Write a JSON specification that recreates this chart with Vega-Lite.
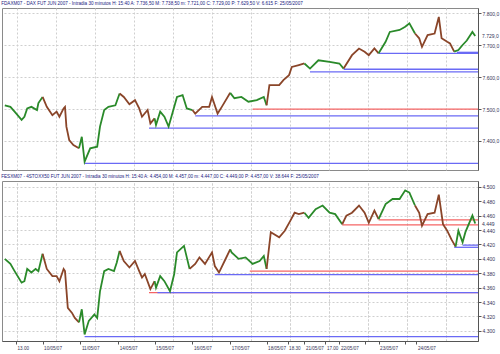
{
  "$schema": "https://vega.github.io/schema/vega-lite/v6.json",
  "padding": 0,
  "background": "white",
  "spacing": 2,
  "config": {
    "locale": {"number": {"decimal": ",", "thousands": ".", "grouping": [3], "currency": ["", ""]}},
    "font": "Liberation Sans",
    "view": {"stroke": "#8a8a8a"},
    "title": {"fontSize": 4.6, "fontWeight": "normal", "color": "#1a1a80", "anchor": "start", "offset": 2, "font": "Liberation Sans"},
    "axis": {"labelFontSize": 5, "labelColor": "#333355", "title": null}
  },
  "datasets": {
    "dax": [
      {"b":2,"v":7512,"d":1,"c":"g"},{"b":6,"v":7507,"d":1,"c":"g"},{"b":9,"v":7492,"d":1,"c":"g"},{"b":14,"v":7466,"d":1,"c":"g"},{"b":16,"v":7476,"d":1,"c":"g"},{"b":18,"v":7502,"d":1,"c":"g"},{"b":21,"v":7507,"d":1,"c":"g"},{"b":25,"v":7497,"d":1,"c":"g"},{"b":26,"v":7519,"d":1,"c":"g"},{"b":29,"v":7538,"d":1,"c":"g"},
      {"b":29,"v":7538,"d":2,"c":"r"},{"b":32,"v":7507,"d":2,"c":"r"},{"b":36,"v":7481,"d":2,"c":"r"},{"b":39,"v":7492,"d":2,"c":"r"},{"b":41,"v":7476,"d":2,"c":"r"},{"b":44,"v":7502,"d":2,"c":"r"},{"b":45,"v":7507,"d":2,"c":"r"},{"b":46,"v":7445,"d":2,"c":"r"},{"b":48,"v":7403,"d":2,"c":"r"},{"b":51,"v":7387,"d":2,"c":"r"},{"b":55,"v":7377,"d":2,"c":"r"},
      {"b":55,"v":7377,"d":3,"c":"g"},{"b":57,"v":7413,"d":3,"c":"g"},{"b":59,"v":7335,"d":3,"c":"g"},{"b":63,"v":7377,"d":3,"c":"g"},{"b":68,"v":7382,"d":3,"c":"g"},{"b":70,"v":7445,"d":3,"c":"g"},{"b":73,"v":7497,"d":3,"c":"g"},{"b":76,"v":7507,"d":3,"c":"g"},{"b":81,"v":7512,"d":3,"c":"g"},{"b":84,"v":7549,"d":3,"c":"g"},
      {"b":84,"v":7549,"d":4,"c":"r"},{"b":87,"v":7538,"d":4,"c":"r"},{"b":91,"v":7515,"d":4,"c":"r"},{"b":95,"v":7528,"d":4,"c":"r"},{"b":98,"v":7502,"d":4,"c":"r"},{"b":100,"v":7476,"d":4,"c":"r"},{"b":104,"v":7497,"d":4,"c":"r"},{"b":106,"v":7455,"d":4,"c":"r"},{"b":109,"v":7471,"d":4,"c":"r"},
      {"b":109,"v":7471,"d":5,"c":"g"},{"b":110,"v":7450,"d":5,"c":"g"},{"b":113,"v":7492,"d":5,"c":"g"},{"b":116,"v":7476,"d":5,"c":"g"},{"b":119,"v":7445,"d":5,"c":"g"},{"b":121,"v":7476,"d":5,"c":"g"},{"b":125,"v":7538,"d":5,"c":"g"},{"b":129,"v":7544,"d":5,"c":"g"},{"b":132,"v":7502,"d":5,"c":"g"},{"b":136,"v":7497,"d":5,"c":"g"},
      {"b":136,"v":7497,"d":6,"c":"r"},{"b":138,"v":7486,"d":6,"c":"r"},{"b":143,"v":7507,"d":6,"c":"r"},{"b":148,"v":7507,"d":6,"c":"r"},{"b":150,"v":7538,"d":6,"c":"r"},{"b":154,"v":7486,"d":6,"c":"r"},{"b":157,"v":7507,"d":6,"c":"r"},{"b":163,"v":7551,"d":6,"c":"r"},
      {"b":163,"v":7551,"d":7,"c":"g"},{"b":166,"v":7534,"d":7,"c":"g"},{"b":171,"v":7538,"d":7,"c":"g"},{"b":176,"v":7523,"d":7,"c":"g"},{"b":182,"v":7528,"d":7,"c":"g"},{"b":187,"v":7538,"d":7,"c":"g"},{"b":189,"v":7512,"d":7,"c":"g"},
      {"b":189,"v":7512,"d":8,"c":"r"},{"b":191,"v":7575,"d":8,"c":"r"},{"b":198,"v":7575,"d":8,"c":"r"},{"b":201,"v":7591,"d":8,"c":"r"},{"b":205,"v":7606,"d":8,"c":"r"},{"b":207,"v":7632,"d":8,"c":"r"},{"b":212,"v":7638,"d":8,"c":"r"},{"b":216,"v":7643,"d":8,"c":"r"},
      {"b":216,"v":7643,"d":9,"c":"g"},{"b":220,"v":7627,"d":9,"c":"g"},{"b":226,"v":7653,"d":9,"c":"g"},{"b":234,"v":7648,"d":9,"c":"g"},{"b":241,"v":7643,"d":9,"c":"g"},{"b":244,"v":7627,"d":9,"c":"g"},
      {"b":244,"v":7627,"d":10,"c":"r"},{"b":250,"v":7669,"d":10,"c":"r"},{"b":255,"v":7690,"d":10,"c":"r"},{"b":259,"v":7680,"d":10,"c":"r"},{"b":262,"v":7669,"d":10,"c":"r"},{"b":266,"v":7690,"d":10,"c":"r"},{"b":269,"v":7675,"d":10,"c":"r"},
      {"b":269,"v":7675,"d":11,"c":"g"},{"b":274,"v":7711,"d":11,"c":"g"},{"b":277,"v":7742,"d":11,"c":"g"},{"b":284,"v":7748,"d":11,"c":"g"},{"b":288,"v":7758,"d":11,"c":"g"},{"b":291,"v":7769,"d":11,"c":"g"},{"b":295,"v":7737,"d":11,"c":"g"},
      {"b":295,"v":7737,"d":12,"c":"r"},{"b":298,"v":7722,"d":12,"c":"r"},{"b":300,"v":7695,"d":12,"c":"r"},{"b":304,"v":7732,"d":12,"c":"r"},{"b":309,"v":7737,"d":12,"c":"r"},{"b":312,"v":7789,"d":12,"c":"r"},{"b":314,"v":7722,"d":12,"c":"r"},{"b":318,"v":7711,"d":12,"c":"r"},{"b":320,"v":7706,"d":12,"c":"r"},{"b":323,"v":7680,"d":12,"c":"r"},
      {"b":323,"v":7680,"d":13,"c":"g"},{"b":326,"v":7685,"d":13,"c":"g"},{"b":329,"v":7701,"d":13,"c":"g"},{"b":332,"v":7715,"d":13,"c":"g"},{"b":336,"v":7742,"d":13,"c":"g"},{"b":338,"v":7729,"d":13,"c":"g"}
    ],
    "stx": [
      {"b":2,"v":4400,"d":1,"c":"g"},{"b":6,"v":4393,"d":1,"c":"g"},{"b":9,"v":4383,"d":1,"c":"g"},{"b":14,"v":4367,"d":1,"c":"g"},{"b":16,"v":4369,"d":1,"c":"g"},{"b":18,"v":4386,"d":1,"c":"g"},{"b":21,"v":4381,"d":1,"c":"g"},{"b":24,"v":4386,"d":1,"c":"g"},{"b":26,"v":4383,"d":1,"c":"g"},{"b":29,"v":4407,"d":1,"c":"g"},
      {"b":29,"v":4407,"d":2,"c":"r"},{"b":32,"v":4386,"d":2,"c":"r"},{"b":36,"v":4376,"d":2,"c":"r"},{"b":39,"v":4376,"d":2,"c":"r"},{"b":41,"v":4369,"d":2,"c":"r"},{"b":44,"v":4386,"d":2,"c":"r"},{"b":45,"v":4383,"d":2,"c":"r"},{"b":47,"v":4332,"d":2,"c":"r"},{"b":50,"v":4325,"d":2,"c":"r"},{"b":52,"v":4318,"d":2,"c":"r"},{"b":55,"v":4312,"d":2,"c":"r"},
      {"b":55,"v":4312,"d":3,"c":"g"},{"b":57,"v":4330,"d":3,"c":"g"},{"b":59,"v":4295,"d":3,"c":"g"},{"b":62,"v":4314,"d":3,"c":"g"},{"b":66,"v":4323,"d":3,"c":"g"},{"b":68,"v":4318,"d":3,"c":"g"},{"b":70,"v":4355,"d":3,"c":"g"},{"b":73,"v":4383,"d":3,"c":"g"},{"b":76,"v":4386,"d":3,"c":"g"},{"b":80,"v":4383,"d":3,"c":"g"},{"b":82,"v":4395,"d":3,"c":"g"},{"b":84,"v":4411,"d":3,"c":"g"},
      {"b":84,"v":4411,"d":4,"c":"r"},{"b":87,"v":4397,"d":4,"c":"r"},{"b":91,"v":4388,"d":4,"c":"r"},{"b":95,"v":4397,"d":4,"c":"r"},{"b":98,"v":4383,"d":4,"c":"r"},{"b":100,"v":4374,"d":4,"c":"r"},{"b":102,"v":4379,"d":4,"c":"r"},{"b":106,"v":4358,"d":4,"c":"r"},{"b":109,"v":4369,"d":4,"c":"r"},
      {"b":109,"v":4369,"d":5,"c":"g"},{"b":110,"v":4360,"d":5,"c":"g"},{"b":113,"v":4376,"d":5,"c":"g"},{"b":116,"v":4369,"d":5,"c":"g"},{"b":120,"v":4355,"d":5,"c":"g"},{"b":123,"v":4379,"d":5,"c":"g"},{"b":125,"v":4409,"d":5,"c":"g"},{"b":130,"v":4418,"d":5,"c":"g"},{"b":132,"v":4402,"d":5,"c":"g"},{"b":134,"v":4386,"d":5,"c":"g"},
      {"b":134,"v":4386,"d":6,"c":"r"},{"b":138,"v":4393,"d":6,"c":"r"},{"b":141,"v":4402,"d":6,"c":"r"},{"b":145,"v":4393,"d":6,"c":"r"},{"b":150,"v":4409,"d":6,"c":"r"},{"b":152,"v":4390,"d":6,"c":"r"},{"b":155,"v":4381,"d":6,"c":"r"},{"b":159,"v":4397,"d":6,"c":"r"},{"b":163,"v":4413,"d":6,"c":"r"},
      {"b":163,"v":4413,"d":7,"c":"g"},{"b":164,"v":4409,"d":7,"c":"g"},{"b":169,"v":4400,"d":7,"c":"g"},{"b":174,"v":4402,"d":7,"c":"g"},{"b":179,"v":4393,"d":7,"c":"g"},{"b":184,"v":4397,"d":7,"c":"g"},{"b":187,"v":4404,"d":7,"c":"g"},{"b":189,"v":4386,"d":7,"c":"g"},
      {"b":189,"v":4386,"d":8,"c":"r"},{"b":192,"v":4437,"d":8,"c":"r"},{"b":198,"v":4430,"d":8,"c":"r"},{"b":202,"v":4439,"d":8,"c":"r"},{"b":206,"v":4453,"d":8,"c":"r"},{"b":209,"v":4464,"d":8,"c":"r"},{"b":212,"v":4462,"d":8,"c":"r"},{"b":216,"v":4464,"d":8,"c":"r"},
      {"b":216,"v":4464,"d":9,"c":"g"},{"b":219,"v":4457,"d":9,"c":"g"},{"b":224,"v":4469,"d":9,"c":"g"},{"b":229,"v":4474,"d":9,"c":"g"},{"b":234,"v":4464,"d":9,"c":"g"},{"b":238,"v":4462,"d":9,"c":"g"},{"b":243,"v":4448,"d":9,"c":"g"},
      {"b":243,"v":4448,"d":10,"c":"r"},{"b":246,"v":4460,"d":10,"c":"r"},{"b":250,"v":4464,"d":10,"c":"r"},{"b":255,"v":4474,"d":10,"c":"r"},{"b":259,"v":4464,"d":10,"c":"r"},{"b":262,"v":4450,"d":10,"c":"r"},{"b":266,"v":4467,"d":10,"c":"r"},{"b":269,"v":4455,"d":10,"c":"r"},
      {"b":269,"v":4455,"d":11,"c":"g"},{"b":274,"v":4476,"d":11,"c":"g"},{"b":279,"v":4483,"d":11,"c":"g"},{"b":284,"v":4483,"d":11,"c":"g"},{"b":288,"v":4495,"d":11,"c":"g"},{"b":291,"v":4492,"d":11,"c":"g"},{"b":295,"v":4474,"d":11,"c":"g"},
      {"b":295,"v":4474,"d":12,"c":"r"},{"b":298,"v":4464,"d":12,"c":"r"},{"b":300,"v":4446,"d":12,"c":"r"},{"b":304,"v":4462,"d":12,"c":"r"},{"b":309,"v":4464,"d":12,"c":"r"},{"b":312,"v":4489,"d":12,"c":"r"},{"b":315,"v":4448,"d":12,"c":"r"},{"b":318,"v":4439,"d":12,"c":"r"},{"b":321,"v":4427,"d":12,"c":"r"},{"b":324,"v":4417,"d":12,"c":"r"},
      {"b":324,"v":4417,"d":13,"c":"g"},{"b":326,"v":4439,"d":13,"c":"g"},{"b":329,"v":4423,"d":13,"c":"g"},{"b":331,"v":4437,"d":13,"c":"g"},{"b":336,"v":4460,"d":13,"c":"g"},{"b":338,"v":4449,"d":13,"c":"g"}
    ],
    "daxl": [
      {"s":59,"v":7330,"k":"bl"},{"s":105,"v":7440,"k":"bl"},{"s":138,"v":7479,"k":"bl"},{"s":179,"v":7500,"k":"rd"},{"s":220,"v":7617,"k":"bl"},{"s":244,"v":7625,"k":"bl"},{"s":269,"v":7675,"k":"bl"},{"s":325,"v":7678,"k":"bl"}
    ],
    "stxl": [
      {"s":269,"v":4454,"k":"rd"},{"s":243,"v":4447,"k":"rd"},{"s":329,"v":4419,"k":"bl"},{"s":323,"v":4416,"k":"bl"},{"s":177,"v":4383,"k":"rd"},{"s":152,"v":4378,"k":"bl"},{"s":105,"v":4353,"k":"rd"},{"s":111,"v":4353,"k":"bl"},{"s":59,"v":4292,"k":"bl"}
    ],
    "lastdax": [{"b":340,"v":7729,"t":"7.729,0"}],
    "laststx": [{"b":340,"v":4449,"t":"4.449"}]
  },
  "vconcat": [
    {
      "title": {"text": "FDAXM07 - DAX FUT JUN 2007 - Intradia 30 minutos H: 15:40 A: 7.736,50 M: 7.738,50 m: 7.721,00 C: 7.729,00 P: 7.629,50 V: 6.615 F: 25/05/2007"},
      "width": 476,
      "height": 162,
      "layer": [
        {
          "data": {"name": "daxl"},
          "mark": {"type": "rule", "strokeWidth": 1.3},
          "encoding": {
            "x": {"field": "s", "type": "quantitative", "scale": {"domain": [0, 340], "nice": false, "zero": false},
                  "axis": {"orient": "top", "values": [10.7, 38.6, 66.4, 94.3, 122, 150, 178, 205.7, 233.6, 261.4, 289.3, 317], "labels": false, "ticks": false, "domain": false, "grid": true, "gridDash": [2, 2], "gridColor": "#cfcfcf"}},
            "x2": {"datum": 340},
            "y": {"field": "v", "type": "quantitative", "scale": {"domain": [7309, 7817], "nice": false, "zero": false},
                  "axis": {"orient": "right", "values": [7400, 7500, 7600, 7700, 7800], "format": ",.1f", "labelOverlap": false, "grid": true, "gridDash": [2, 2], "gridColor": "#cfcfcf", "tickSize": 3, "tickColor": "#555", "domainColor": "#555", "labelPadding": 1}},
            "stroke": {"field": "k", "type": "nominal", "scale": {"domain": ["bl", "rd"], "range": ["#6a6af5", "#f56464"]}, "legend": null}
          }
        },
        {
          "data": {"name": "dax"},
          "mark": {"type": "line", "strokeWidth": 1.8},
          "encoding": {
            "x": {"field": "b", "type": "quantitative",
                  "axis": {"orient": "top", "values": [10.7, 38.6, 66.4, 94.3, 122, 150, 178, 205.7, 233.6, 261.4, 289.3, 317], "labels": false, "ticks": false, "domain": false, "grid": true, "gridDash": [2, 2], "gridColor": "#cfcfcf"}},
            "y": {"field": "v", "type": "quantitative",
                  "axis": {"orient": "right", "values": [7400, 7500, 7600, 7700, 7800], "format": ",.1f", "labelOverlap": false, "grid": true, "gridDash": [2, 2], "gridColor": "#cfcfcf", "tickSize": 3, "tickColor": "#555", "domainColor": "#555", "labelPadding": 1}},
            "detail": {"field": "d", "type": "nominal"},
            "color": {"field": "c", "type": "nominal", "scale": {"domain": ["g", "r"], "range": ["#2a8a2a", "#8a4529"]}, "legend": null}
          }
        },
        {
          "data": {"name": "lastdax"},
          "mark": {"type": "text", "align": "left", "dx": 4, "fontSize": 5, "color": "#333355"},
          "encoding": {
            "x": {"field": "b", "type": "quantitative",
                  "axis": {"orient": "top", "values": [10.7, 38.6, 66.4, 94.3, 122, 150, 178, 205.7, 233.6, 261.4, 289.3, 317], "labels": false, "ticks": false, "domain": false, "grid": true, "gridDash": [2, 2], "gridColor": "#cfcfcf"}},
            "y": {"field": "v", "type": "quantitative",
                  "axis": {"orient": "right", "values": [7400, 7500, 7600, 7700, 7800], "format": ",.1f", "labelOverlap": false, "grid": true, "gridDash": [2, 2], "gridColor": "#cfcfcf", "tickSize": 3, "tickColor": "#555", "domainColor": "#555", "labelPadding": 1}},
            "text": {"field": "t"}
          }
        }
      ]
    },
    {
      "title": {"text": "FESXM07 - 4STOXX50 FUT JUN 2007 - Intradia 30 minutos H: 15:40 A: 4.454,00 M: 4.457,00 m: 4.447,00 C: 4.449,00 P: 4.457,00 V: 38.644 F: 25/05/2007"},
      "width": 476,
      "height": 160,
      "layer": [
        {
          "data": {"name": "stxl"},
          "mark": {"type": "rule", "strokeWidth": 1.3},
          "encoding": {
            "x": {"field": "s", "type": "quantitative", "scale": {"domain": [0, 340], "nice": false, "zero": false},
                  "axis": {"orient": "bottom", "values": [10, 29, 56, 83, 109, 136, 163, 189, 204, 216, 231, 241, 259, 269, 288, 296],
                           "labelExpr": "datum.value == 10 ? '13.00' : datum.value == 29 ? '10/05/07' : datum.value == 56 ? '11/05/07' : datum.value == 83 ? '14/05/07' : datum.value == 109 ? '15/05/07' : datum.value == 136 ? '16/05/07' : datum.value == 163 ? '17/05/07' : datum.value == 189 ? '18/05/07' : datum.value == 204 ? '18.30' : datum.value == 216 ? '21/05/07' : datum.value == 231 ? '17.00' : datum.value == 241 ? '22/05/07' : datum.value == 269 ? '23/05/07' : datum.value == 296 ? '24/05/07' : ''",
                           "labelFontSize": 4.6, "labelAlign": "left", "labelOffset": 1, "labelPadding": 1, "labelOverlap": false, "labelFlush": false, "labelBound": false, "tickSize": 3, "tickColor": "#555", "domainColor": "#555", "grid": false}},
            "x2": {"datum": 340},
            "y": {"field": "v", "type": "quantitative", "scale": {"domain": [4286, 4508], "nice": false, "zero": false},
                  "axis": {"orient": "right", "values": [4300, 4320, 4340, 4360, 4380, 4400, 4420, 4440, 4460, 4480, 4500], "format": ",d", "labelOverlap": false, "grid": true, "gridDash": [2, 2], "gridColor": "#cfcfcf", "tickSize": 3, "tickColor": "#555", "domainColor": "#555", "labelPadding": 1}},
            "stroke": {"field": "k", "type": "nominal", "scale": {"domain": ["bl", "rd"], "range": ["#6a6af5", "#f56464"]}, "legend": null}
          }
        },
        {
          "data": {"name": "stx"},
          "mark": {"type": "line", "strokeWidth": 1.8},
          "encoding": {
            "x": {"field": "b", "type": "quantitative",
                  "axis": {"orient": "top", "values": [10.7, 38.6, 66.4, 94.3, 122, 150, 178, 205.7, 233.6, 261.4, 289.3, 317], "labels": false, "ticks": false, "domain": false, "grid": true, "gridDash": [2, 2], "gridColor": "#cfcfcf"}},
            "y": {"field": "v", "type": "quantitative",
                  "axis": {"orient": "right", "values": [4300, 4320, 4340, 4360, 4380, 4400, 4420, 4440, 4460, 4480, 4500], "format": ",d", "labelOverlap": false, "grid": true, "gridDash": [2, 2], "gridColor": "#cfcfcf", "tickSize": 3, "tickColor": "#555", "domainColor": "#555", "labelPadding": 1}},
            "detail": {"field": "d", "type": "nominal"},
            "color": {"field": "c", "type": "nominal", "scale": {"domain": ["g", "r"], "range": ["#2a8a2a", "#8a4529"]}, "legend": null}
          }
        },
        {
          "data": {"name": "laststx"},
          "mark": {"type": "text", "align": "left", "dx": 4, "fontSize": 5, "color": "#333355"},
          "encoding": {
            "x": {"field": "b", "type": "quantitative",
                  "axis": {"orient": "top", "values": [10.7, 38.6, 66.4, 94.3, 122, 150, 178, 205.7, 233.6, 261.4, 289.3, 317], "labels": false, "ticks": false, "domain": false, "grid": true, "gridDash": [2, 2], "gridColor": "#cfcfcf"}},
            "y": {"field": "v", "type": "quantitative",
                  "axis": {"orient": "right", "values": [4300, 4320, 4340, 4360, 4380, 4400, 4420, 4440, 4460, 4480, 4500], "format": ",d", "labelOverlap": false, "grid": true, "gridDash": [2, 2], "gridColor": "#cfcfcf", "tickSize": 3, "tickColor": "#555", "domainColor": "#555", "labelPadding": 1}},
            "text": {"field": "t"}
          }
        }
      ]
    }
  ]
}
